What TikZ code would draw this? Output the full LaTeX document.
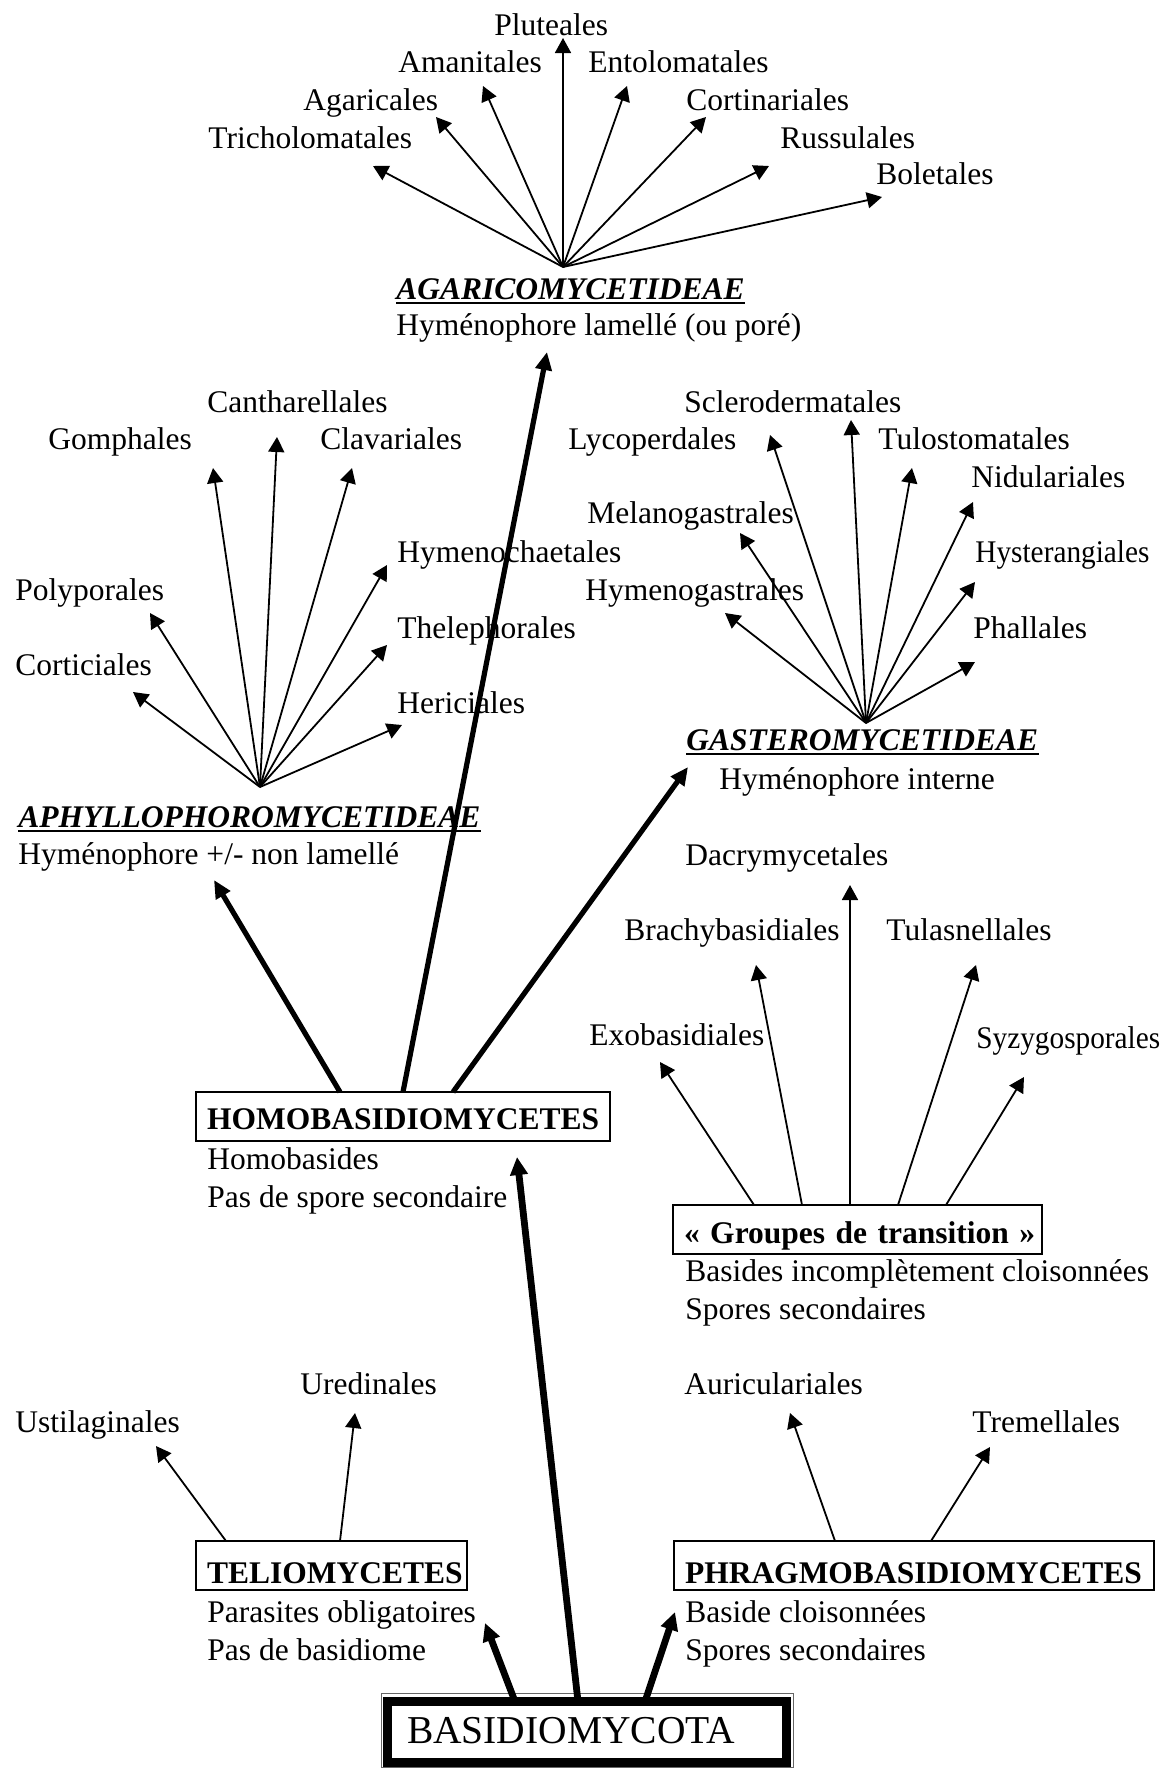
\documentclass[tikz,border=0pt]{standalone}
\usepackage{fontspec}
\setmainfont{Liberation Serif}
\newfontfamily\narrowserif[FakeStretch=0.93]{Liberation Serif}
\usetikzlibrary{arrows.meta,calc}
\hyphenpenalty=10000
\exhyphenpenalty=10000
\newcommand\taxsize{\fontsize{15.75}{19}\selectfont}
\tikzset{
  taxon/.style={anchor=base west,inner sep=0pt},
  headline/.style={taxon,font=\taxsize\bfseries\itshape},
  subline/.style={taxon,align=left},
  taxbox/.style={draw,line width=0.6pt,anchor=north west,align=left,
    font=\taxsize\bfseries,inner xsep=5.5pt,inner ysep=0pt,outer sep=0pt,
    text height=18.5pt,text depth=6pt},
  lowbox/.style={taxbox,text height=21pt,text depth=3.5pt},
  fan/.style={line width=0.9pt,-{Triangle[length=7.5pt,width=8pt]}},
  trunk/.style={line width=2.6pt,-{Triangle[length=9pt,width=8pt]}},
  root/.style={line width=3.4pt,-{Triangle[length=9pt,width=8.5pt]}}
}
\begin{document}
\begin{tikzpicture}[x=0.5pt,y=-0.5pt,font=\taxsize]
  \useasboundingbox (0,0) rectangle (1163,1768);
  % sub-classes (two-line texts are placed by their last baseline)
  \node[headline] (agarico) at (396,299) {AGARICOMYCETIDEAE};
  \node[subline] (agarico-sub) at (396,335) {Hyménophore lamellé (ou poré)};
  \node[headline] (aphyllo) at (18,827) {APHYLLOPHOROMYCETIDEAE};
  \node[subline] (aphyllo-sub) at (18,864) {Hyménophore +/- non lamellé};
  \node[headline] (gastero) at (686,750) {GASTEROMYCETIDEAE};
  \node[subline] (gastero-sub) at (719,789) {Hyménophore interne};
  \foreach \h in {agarico,aphyllo,gastero}
    \draw[line width=0.9pt] ([yshift=-1.8pt]\h.base west) -- ([yshift=-1.8pt]\h.base east);
  % agaricoid orders
  \coordinate (agari-fork) at (563,267);
  \foreach \n/\lx/\ly/\tx/\ty/\lab in {plu/494/35/563/38/Pluteales,
      ama/398/72/483/86/Amanitales, ento/588/72/627/86/Entolomatales,
      aga/303/110/436/117/Agaricales, cort/686/110/706/117/Cortinariales,
      tri/208/148/373/166/Tricholomatales, rus/780/148/769/166/Russulales,
      bol/876/184/882/197/Boletales}{
    \node[taxon] (\n) at (\lx,\ly) {\lab};
    \coordinate (\n-tip) at (\tx,\ty);
    \draw[fan] (agari-fork) -- (\n-tip);
  }
  % aphyllophoroid orders
  \coordinate (aphyl-fork) at (260,787);
  \foreach \n/\lx/\ly/\tx/\ty/\lab in {can/207/412/277/437/Cantharellales,
      gom/48/449/213/468/Gomphales, cla/320/449/352/468/Clavariales,
      hymc/397/562/387/565/Hymenochaetales, pol/15/600/150/613/Polyporales,
      the/397/638/387/645/Thelephorales, cor/15/675/133/692/Corticiales,
      her/397/713/402/725/Hericiales}{
    \node[taxon] (\n) at (\lx,\ly) {\lab};
    \coordinate (\n-tip) at (\tx,\ty);
    \draw[fan] (aphyl-fork) -- (\n-tip);
  }
  % gasteroid orders
  \coordinate (gaster-fork) at (866,723);
  \foreach \n/\lx/\ly/\tx/\ty/\lab in {scl/684/412/851/420/Sclerodermatales,
      lyc/568/449/770/435/Lycoperdales, tul/878/449/912/468/Tulostomatales,
      nid/971/487/973/502/Nidulariales, mel/587/523/740/533/Melanogastrales,
      hys/975/562/975/582/{\narrowserif Hysterangiales}, hyg/585/600/725/613/Hymenogastrales,
      pha/973/638/975/662/Phallales}{
    \node[taxon] (\n) at (\lx,\ly) {\lab};
    \coordinate (\n-tip) at (\tx,\ty);
    \draw[fan] (gaster-fork) -- (\n-tip);
  }
  % classes
  \node[taxbox,text width=196pt] (homo) at (196,1092) {HOMOBASIDIOMYCETES};
  \node[subline] (homo-sub) at (207,1207) {Homobasides\\Pas de spore secondaire};
  \node[taxbox,text width=173.5pt,text height=19pt,text depth=5.5pt] (groupes)
    at (673,1205) {\mbox{«~Groupes de transition~»}};
  \node[subline] (groupes-sub) at (685,1319)
    {Basides incomplètement cloisonnées\\Spores secondaires};
  \node[lowbox,text width=124.5pt] (telio) at (196,1541) {TELIOMYCETES};
  \node[subline] (telio-sub) at (207,1660) {Parasites obligatoires\\Pas de basidiome};
  \node[lowbox,text width=229pt] (phrag) at (674,1541) {PHRAGMOBASIDIOMYCETES};
  \node[subline] (phrag-sub) at (685,1660) {Baside cloisonnées\\Spores secondaires};
  % transition orders
  \foreach \n/\lx/\ly/\off/\tx/\ty/\lab in {exo/589/1045/81/660/1062/Exobasidiales,
      bra/624/940/129/756/965/Brachybasidiales, dac/685/865/177/850/885/Dacrymycetales,
      tula/886/940/225/976/965/Tulasnellales,
      syz/976/1048/273/1024/1077/{\narrowserif Syzygosporales}}{
    \node[taxon] (\n) at (\lx,\ly) {\lab};
    \coordinate (\n-tip) at (\tx,\ty);
    \draw[fan] ($(groupes.north west)+(\off,0)$) -- (\n-tip);
  }
  % telio and phragmo orders
  \foreach \n/\lx/\ly/\off/\tx/\ty/\lab in {ust/15/1432/30/156/1446/Ustilaginales,
      ure/300/1394/144/355/1413/Uredinales}{
    \node[taxon] (\n) at (\lx,\ly) {\lab};
    \coordinate (\n-tip) at (\tx,\ty);
    \draw[fan] ($(telio.north west)+(\off,0)$) -- (\n-tip);
  }
  \foreach \n/\lx/\ly/\off/\tx/\ty/\lab in {aur/684/1394/161/790/1413/Auriculariales,
      tre/972/1432/257/990/1447/Tremellales}{
    \node[taxon] (\n) at (\lx,\ly) {\lab};
    \coordinate (\n-tip) at (\tx,\ty);
    \draw[fan] ($(phrag.north west)+(\off,0)$) -- (\n-tip);
  }
  % homobasidiomycete branches
  \coordinate (aphyl-in) at (214,880);
  \coordinate (agari-in) at (547,352);
  \coordinate (gaster-in) at (688,767);
  \draw[trunk] ($(homo.north west)+(144,0)$) -- (aphyl-in);
  \draw[trunk] ($(homo.north west)+(207,0)$) -- (agari-in);
  \draw[trunk] ($(homo.north west)+(257,0)$) -- (gaster-in);
  % phylum
  \node[draw,line width=4.5pt,anchor=north west,outer sep=0pt,inner xsep=9.75pt,
    inner ysep=0pt,text width=179.75pt,align=left,text height=20.75pt,
    text depth=9.75pt,font=\fontsize{19.75}{22}\selectfont] (basidio)
    at (387.5,1701.5) {BASIDIOMYCOTA};
  \draw[line width=0.5pt,black!60] ($(basidio.north west)+(-6,-8)$)
    rectangle ($(basidio.south east)+(7,5)$);
  \coordinate (telio-in) at (485,1623);
  \coordinate (homo-in) at (517,1157);
  \coordinate (phrag-in) at (675,1612);
  \draw[root] ($(basidio.north west)+(127.5,0)$) -- (telio-in);
  \draw[root] ($(basidio.north west)+(190.5,0)$) -- (homo-in);
  \draw[root] ($(basidio.north west)+(257.5,0)$) -- (phrag-in);
\end{tikzpicture}
\end{document}
